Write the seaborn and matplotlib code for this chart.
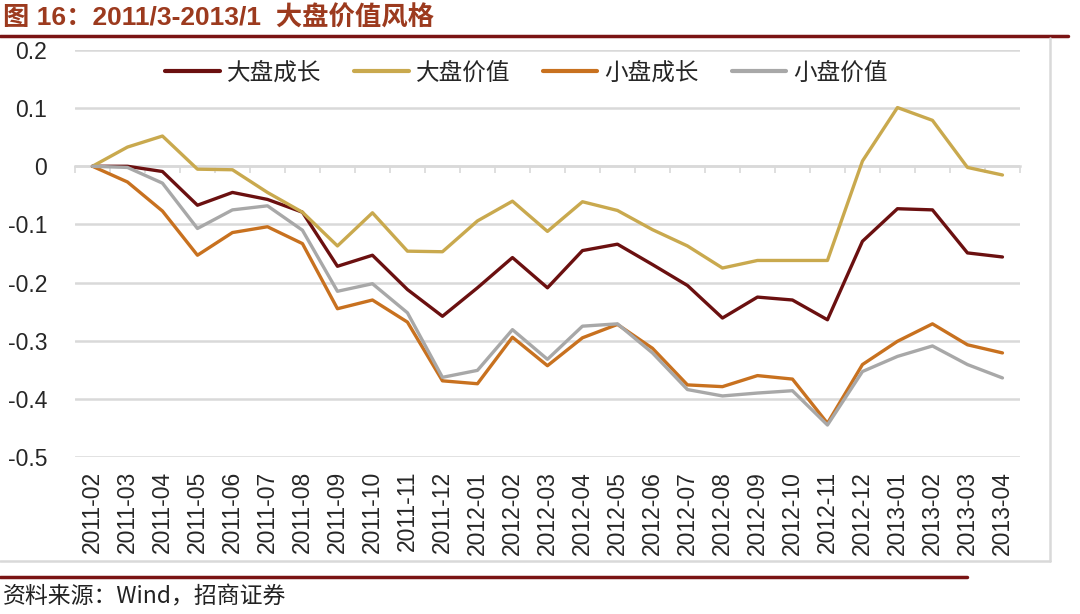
import matplotlib
matplotlib.use('Agg')
import matplotlib.pyplot as plt
import pandas as pd
import seaborn as sns
from matplotlib.lines import Line2D

# months on the category axis
months = ['2011-02', '2011-03', '2011-04', '2011-05', '2011-06', '2011-07', '2011-08',
          '2011-09', '2011-10', '2011-11', '2011-12', '2012-01', '2012-02', '2012-03',
          '2012-04', '2012-05', '2012-06', '2012-07', '2012-08', '2012-09', '2012-10',
          '2012-11', '2012-12', '2013-01', '2013-02', '2013-03', '2013-04']

# series values
large_growth = [0, 0, -0.009, -0.067, -0.045, -0.057, -0.079, -0.172, -0.153, -0.212, -0.258,
                -0.209, -0.157, -0.209, -0.145, -0.134, -0.169, -0.205, -0.261, -0.225, -0.230,
                -0.264, -0.129, -0.073, -0.075, -0.149, -0.156]
large_value = [0, 0.033, 0.052, -0.005, -0.006, -0.045, -0.079, -0.137, -0.080, -0.146, -0.147,
               -0.094, -0.060, -0.112, -0.061, -0.076, -0.109, -0.137, -0.175, -0.162, -0.162,
               -0.162, 0.009, 0.101, 0.079, -0.002, -0.015]
small_growth = [0, -0.027, -0.077, -0.153, -0.114, -0.104, -0.133, -0.245, -0.230, -0.268, -0.369,
                -0.374, -0.294, -0.343, -0.295, -0.272, -0.313, -0.376, -0.379, -0.360, -0.366,
                -0.442, -0.341, -0.301, -0.271, -0.307, -0.321]
small_value = [0, -0.002, -0.029, -0.107, -0.075, -0.068, -0.110, -0.215, -0.202, -0.252, -0.363,
               -0.351, -0.281, -0.332, -0.275, -0.271, -0.321, -0.384, -0.395, -0.390, -0.386,
               -0.445, -0.353, -0.327, -0.309, -0.341, -0.364]

series_names = ['大盘成长', '大盘价值', '小盘成长', '小盘价值']
colors = ['#6B1010', '#C9A94E', '#C8711F', '#A8A8A8']
y_ticks = [0.2, 0.1, 0, -0.1, -0.2, -0.3, -0.4, -0.5]
y_labels = ['0.2', '0.1', '0', '-0.1', '-0.2', '-0.3', '-0.4', '-0.5']

# long-form table for seaborn
frames = []
for name, vals in zip(series_names, [large_growth, large_value, small_growth, small_value]):
    frames.append(pd.DataFrame({'月份': months, '收益': vals, '组合': name}))
df = pd.concat(frames, ignore_index=True)

sns.set_style('white')
plt.rcParams['font.family'] = ['Liberation Sans', 'Noto Sans CJK SC', 'DejaVu Sans']

fig = plt.figure(figsize=(10.8, 6.14), dpi=100)
ax = fig.add_axes([0.0694, 0.2557, 0.875, 0.6629])

sns.lineplot(data=df, x='月份', y='收益', hue='组合', palette=colors,
             linewidth=2.4, sort=False, ax=ax)

# axes look
ax.set_xlim(-0.5, len(months) - 0.5)
ax.set_ylim(-0.5, 0.2)
ax.set_yticks(y_ticks)
ax.set_yticklabels(y_labels)
ax.yaxis.grid(True, color='#D9D9D9', linewidth=1.8)
ax.set_axisbelow(True)
for s in ax.spines.values():
    s.set_visible(False)
ax.set_xlabel('')
ax.set_ylabel('')
ax.tick_params(axis='x', length=0, pad=10, labelsize=16.5, rotation=90)
ax.tick_params(axis='y', length=0, pad=20, labelsize=16.5)

# category axis crossing at zero, with tick marks between months
zero_axis = ax.secondary_xaxis(0, transform=ax.transData)
zero_axis.set_xticks([i - 0.5 for i in range(len(months) + 1)])
zero_axis.set_xticklabels([])
zero_axis.tick_params(direction='out', length=5, color='#D9D9D9', width=1.2)
zero_axis.spines['bottom'].set_color('#D9D9D9')
zero_axis.spines['bottom'].set_linewidth(1.8)
for k in ['top', 'left', 'right']:
    zero_axis.spines[k].set_visible(False)

leg = ax.legend(loc='center', bbox_to_anchor=(0.478, 0.943), ncol=4, frameon=False,
                handlelength=2.3, columnspacing=1.4, handletextpad=0.3,
                prop={'family': ['Noto Sans CJK SC'], 'size': 17})
for line in leg.get_lines():
    line.set_linewidth(3)

# title, frame lines and source note
fig.text(0.003, 0.970, '图 16：2011/3-2013/1  大盘价值风格', fontsize=19, fontweight='bold',
         color='#9C3A1E', va='center', ha='left',
         family=['Liberation Sans', 'Noto Sans CJK SC'])
fig.add_artist(Line2D([0, 0.989], [0.941, 0.941], color='#7A1414', linewidth=2.5))
fig.add_artist(Line2D([0.972, 0.972], [0.938, 0.086], color='#D9D9D9', linewidth=1.8))
fig.add_artist(Line2D([0, 0.972], [0.086, 0.086], color='#D9D9D9', linewidth=1.8))
fig.add_artist(Line2D([0, 0.895], [0.060, 0.060], color='#7A1414', linewidth=2.5))
fig.text(0.003, 0.027, '资料来源：Wind，招商证券', fontsize=16.5, color='#222222',
         va='center', ha='left', family=['Noto Sans CJK SC', 'Liberation Sans'])

fig.savefig('out.png', dpi=100)
